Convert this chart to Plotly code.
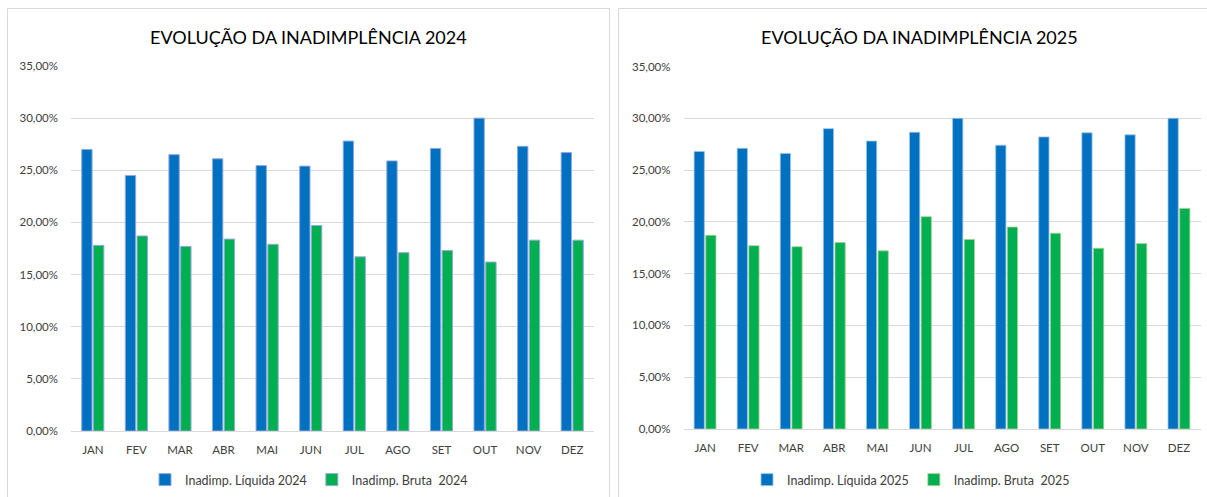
import plotly.graph_objects as go

months = ["JAN", "FEV", "MAR", "ABR", "MAI", "JUN", "JUL", "AGO", "SET", "OUT", "NOV", "DEZ"]
liquida_2024 = [27.0, 24.5, 26.5, 26.1, 25.45, 25.4, 27.8, 25.9, 27.1, 30.0, 27.3, 26.7]
bruta_2024 = [17.8, 18.7, 17.7, 18.4, 17.9, 19.7, 16.7, 17.1, 17.3, 16.2, 18.3, 18.3]
liquida_2025 = [26.8, 27.1, 26.6, 29.0, 27.8, 28.65, 30.0, 27.4, 28.2, 28.6, 28.4, 30.0]
bruta_2025 = [18.7, 17.7, 17.6, 18.0, 17.2, 20.5, 18.3, 19.5, 18.9, 17.45, 17.9, 21.3]
titles = ["EVOLUÇÃO DA INADIMPLÊNCIA 2024", "EVOLUÇÃO DA INADIMPLÊNCIA 2025"]
names = [("Inadimp. Líquida 2024", "Inadimp. Bruta  2024"), ("Inadimp. Líquida 2025", "Inadimp. Bruta  2025")]
y_ticks = [0, 0.05, 0.10, 0.15, 0.20, 0.25, 0.30, 0.35]

BLUE = "#0070C0"
GREEN = "#00B050"
FONT = "Lato"

W, H = 1207, 497
fig = go.Figure()

def pct(v):
    return [x / 100 for x in v]

fig.add_trace(go.Bar(x=months, y=pct(liquida_2024), name=names[0][0], marker=dict(color=BLUE, line=dict(color="#8FAADC", width=1)),
                     xaxis="x", yaxis="y", legend="legend"))
fig.add_trace(go.Bar(x=months, y=pct(bruta_2024), name=names[0][1], marker=dict(color=GREEN, line=dict(color="#8FAADC", width=1)),
                     xaxis="x", yaxis="y", legend="legend"))
fig.add_trace(go.Bar(x=months, y=pct(liquida_2025), name=names[1][0], marker=dict(color=BLUE, line=dict(color="#9DC3E6", width=0.8)),
                     xaxis="x2", yaxis="y2", legend="legend2"))
fig.add_trace(go.Bar(x=months, y=pct(bruta_2025), name=names[1][1], marker=dict(color=GREEN, line=dict(color="#A9D18E", width=0.8)),
                     xaxis="x2", yaxis="y2", legend="legend2"))

def px(x):
    return x / W

def py(y):
    return (H - y) / H

axis_common = dict(showgrid=False, showline=True, linecolor="#d9d9d9", linewidth=1, ticks="",
                   ticklabelstandoff=8, automargin=False,
                   tickfont=dict(family=FONT, size=11.5, color="#404040"), fixedrange=True)
yaxis_common = dict(range=[0, 0.35], tickvals=y_ticks, tickformat=".2%", showgrid=True, gridcolor="#d9d9d9",
                    gridwidth=1, zeroline=False, showline=False, ticks="", ticklabelstandoff=12, automargin=False,
                    tickfont=dict(family=FONT, size=11.5, color="#404040"), fixedrange=True)

fig.update_layout(
    width=W, height=H,
    margin=dict(l=0, r=0, t=0, b=0, autoexpand=False),
    paper_bgcolor="white", plot_bgcolor="white",
    separators=",.",
    barmode="group", bargap=0.46, bargroupgap=0.12,
    xaxis=dict(domain=[px(71), px(594)], anchor="y", **axis_common),
    yaxis=dict(domain=[py(431), py(66)], anchor="x", **yaxis_common),
    xaxis2=dict(domain=[px(683.5), px(1200.5)], anchor="y2", **axis_common),
    yaxis2=dict(domain=[py(429), py(66.5)], anchor="x2", **yaxis_common),
    legend=dict(orientation="h", x=px(309), xanchor="center", y=py(480), yanchor="middle",
                font=dict(family=FONT, size=12.5, color="#404040"), itemwidth=30, bgcolor="rgba(0,0,0,0)"),
    legend2=dict(orientation="h", x=px(911), xanchor="center", y=py(480), yanchor="middle",
                 font=dict(family=FONT, size=12.5, color="#404040"), itemwidth=30, bgcolor="rgba(0,0,0,0)"),
    showlegend=True,
    shapes=[
        dict(type="rect", xref="paper", yref="paper", x0=px(7.5), x1=px(609.5), y0=-0.05, y1=py(8.5),
             line=dict(color="#d9d9d9", width=1), fillcolor="rgba(0,0,0,0)", layer="below"),
        dict(type="rect", xref="paper", yref="paper", x0=px(618.5), x1=1.05, y0=-0.05, y1=py(8.5),
             line=dict(color="#d9d9d9", width=1), fillcolor="rgba(0,0,0,0)", layer="below"),
    ],
    annotations=[
        dict(text=titles[0], x=px(309), y=py(37), xref="paper", yref="paper", showarrow=False,
             xanchor="center", yanchor="middle", font=dict(family=FONT, size=18, color="#000000")),
        dict(text=titles[1], x=px(919), y=py(37), xref="paper", yref="paper", showarrow=False,
             xanchor="center", yanchor="middle", font=dict(family=FONT, size=18, color="#000000")),
    ],
)

fig.write_html(
    "out.html",
    config={"displayModeBar": False, "staticPlot": True},
    post_script=(
        "document.documentElement.style.margin='0';document.body.style.margin='0';"
        "document.documentElement.style.overflow='hidden';document.body.style.overflow='hidden';"
        "var d=document.querySelector('.plotly-graph-div');"
        "d.style.position='fixed';d.style.top='0px';d.style.left='0px';"
    ),
)
